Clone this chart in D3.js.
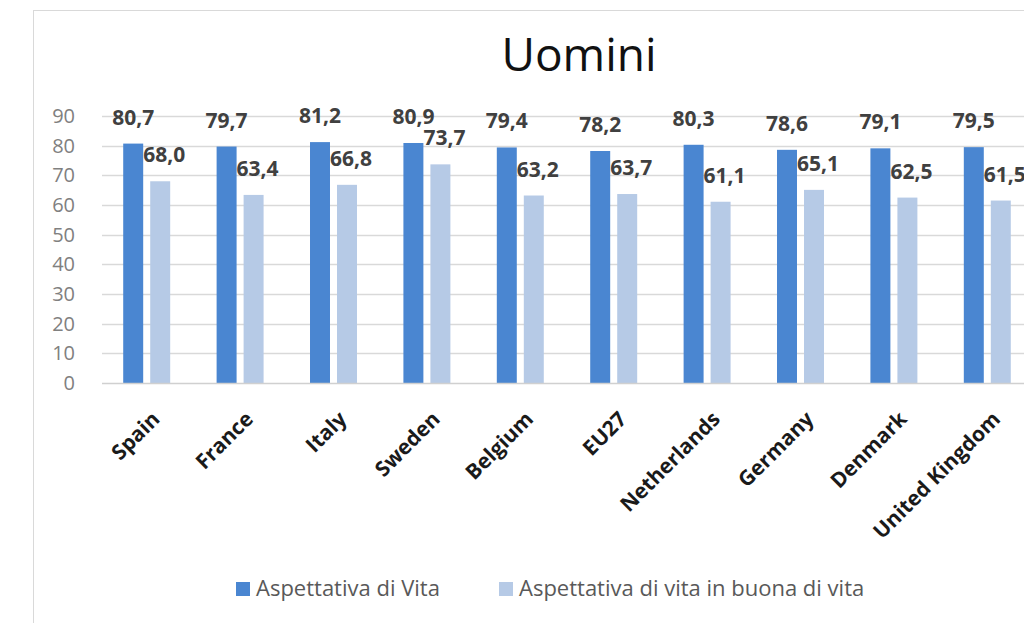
<!DOCTYPE html>
<html>
<head>
<meta charset="utf-8">
<style>
  body { margin: 0; background: #fff; overflow: hidden; }
  svg { display: block; font-family: "Open Sans", sans-serif; }
</style>
</head>
<body>
<div id="chart"></div>
<script src="https://d3js.org/d3.v7.min.js"></script>
<script>
// data
var categories = ["Spain", "France", "Italy", "Sweden", "Belgium", "EU27", "Netherlands", "Germany", "Denmark", "United Kingdom"];
var vita = [80.7, 79.7, 81.2, 80.9, 79.4, 78.2, 80.3, 78.6, 79.1, 79.5];
var buonaVita = [68.0, 63.4, 66.8, 73.7, 63.2, 63.7, 61.1, 65.1, 62.5, 61.5];
var seriesNames = ["Aspettativa di Vita", "Aspettativa di vita in buona di vita"];
var yTicks = [0, 10, 20, 30, 40, 50, 60, 70, 80, 90];
var colors = ["#4a86d1", "#b6cae6"];

var W = 1024, H = 623;
var svg = d3.select("#chart").append("svg")
    .attr("width", W).attr("height", H);

// chart frame (runs off the right edge like the screenshot)
svg.append("rect")
    .attr("x", 33.5).attr("y", 10.5)
    .attr("width", 1100).attr("height", 640)
    .attr("fill", "#fff").attr("stroke", "#d9d9d9");

svg.append("text")
    .attr("x", 579).attr("y", 71)
    .attr("text-anchor", "middle")
    .attr("font-size", 46)
    .attr("fill", "#111")
    .text("Uomini");

var x = d3.scaleBand().domain(categories).range([100, 1034])
    .paddingInner(0.497).paddingOuter(0.2485);
var xs = d3.scaleBand().domain([0, 1]).range([0, x.bandwidth()]).paddingInner(0.26);
var y = d3.scaleLinear().domain([0, 90]).range([383, 116]);

// gridlines
svg.append("g").selectAll("line")
    .data(yTicks.filter(d => d > 0))
    .join("line")
    .attr("x1", 102).attr("x2", W)
    .attr("y1", d => Math.round(y(d)) + 0.5).attr("y2", d => Math.round(y(d)) + 0.5)
    .attr("stroke", "#d9d9d9").attr("stroke-width", 1.5);

// y axis labels
var yAxis = svg.append("g")
    .attr("transform", "translate(100,0)")
    .call(d3.axisLeft(y).tickValues(yTicks).tickSize(0).tickPadding(25));
yAxis.select(".domain").remove();
yAxis.selectAll("text")
    .attr("font-size", 20)
    .attr("font-family", "Open Sans, sans-serif")
    .attr("fill", "#808080");

var rows = categories.map((c, i) => ({ cat: c, vals: [vita[i], buonaVita[i]] }));

var groups = svg.append("g").selectAll("g")
    .data(rows)
    .join("g")
    .attr("transform", d => "translate(" + x(d.cat) + ",0)");

groups.selectAll("rect")
    .data(d => d.vals.map((v, k) => ({ k: k, v: v })))
    .join("rect")
    .attr("x", d => xs(d.k))
    .attr("y", d => y(d.v))
    .attr("width", xs.bandwidth())
    .attr("height", d => y(0) - y(d.v))
    .attr("fill", d => colors[d.k]);

groups.selectAll("text.val")
    .data(d => d.vals.map((v, k) => ({ k: k, v: v })))
    .join("text")
    .attr("class", "val")
    .attr("x", d => xs(d.k) + xs.bandwidth() / 2 + (d.k ? 4 : 0))
    .attr("y", d => y(d.v) - 19)
    .attr("text-anchor", "middle")
    .attr("font-size", 21)
    .attr("font-weight", "bold")
    .attr("fill", "#404040")
    .text(d => d.v.toFixed(1).replace(".", ","));

// baseline
svg.append("line")
    .attr("x1", 102).attr("x2", W)
    .attr("y1", 383.5).attr("y2", 383.5)
    .attr("stroke", "#d0d0d0").attr("stroke-width", 1.5);

// category labels, rotated
svg.append("g").selectAll("text")
    .data(categories)
    .join("text")
    .attr("transform", d => "translate(" + (x(d) + x.bandwidth() / 2 + 4) + ",410) rotate(-45)")
    .attr("text-anchor", "end")
    .attr("dy", "0.7em")
    .attr("font-size", 21)
    .attr("font-weight", "bold")
    .attr("fill", "#1a1a1a")
    .text(d => d);

// legend
var legendX = [236, 499];
var legend = svg.append("g").selectAll("g")
    .data(seriesNames)
    .join("g")
    .attr("transform", (d, i) => "translate(" + legendX[i] + ",582)");
legend.append("rect")
    .attr("width", 14).attr("height", 14)
    .attr("fill", (d, i) => colors[i]);
legend.append("text")
    .attr("x", 20).attr("y", 14)
    .attr("font-size", 22)
    .attr("fill", "#595959")
    .text(d => d);
</script>
</body>
</html>
